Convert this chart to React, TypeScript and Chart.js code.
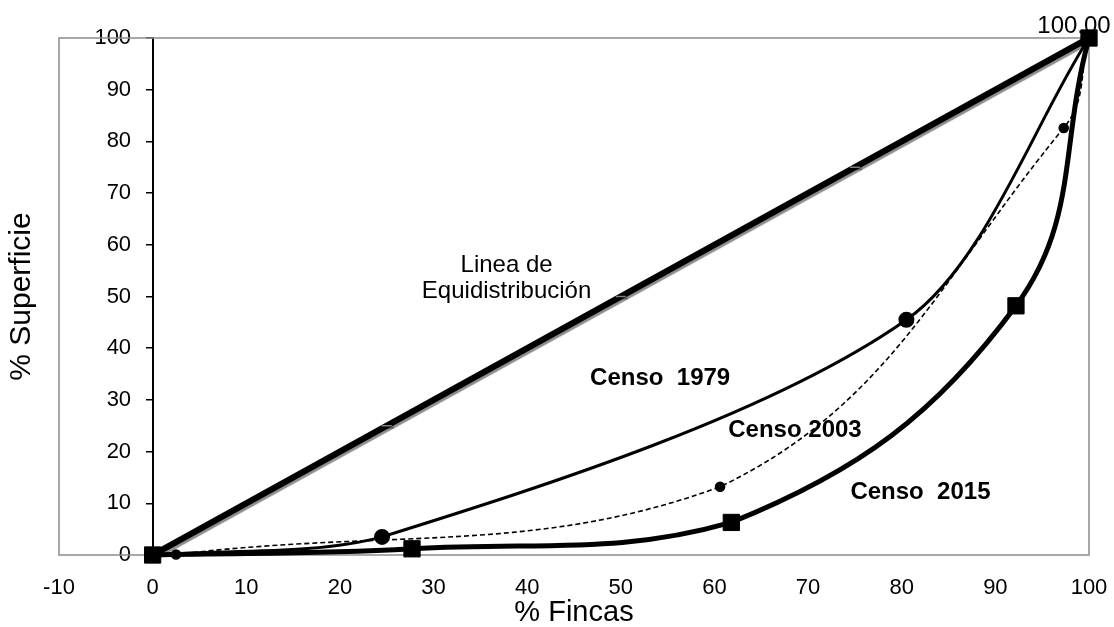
import React, { useEffect, useRef } from 'react';
import { Chart, registerables } from 'chart.js';

Chart.register(...registerables);

// ---- data ----
const equidistX = [0, 25, 50, 75, 100];
const equidistY = [0, 25, 50, 75, 100];

const censo1979X = [0, 24.5, 80.5, 100];
const censo1979Y = [0, 3.5, 45.5, 100];

const censo2003X = [0, 2.5, 60.6, 97.3, 100];
const censo2003Y = [0, 0.1, 13.2, 82.6, 100];

const censo2015X = [0, 27.7, 61.8, 92.2, 100];
const censo2015Y = [0, 1.2, 6.3, 48.2, 100];

const xMin = -10;
const xMax = 100;
const yMin = 0;
const yMax = 100;
const tickStep = 10;

const topValueLabel = '100.00';

const annotationTexts = ['Linea de', 'Equidistribución', 'Censo  1979', 'Censo 2003', 'Censo  2015'];
const annotationX = [37.8, 37.8, 54.2, 68.6, 82.0];
const annotationY = [56.1, 50.9, 34.2, 24.2, 12.2];
const annotationBold = [false, false, true, true, true];

const FONT = '"Liberation Sans", Arial, Helvetica, sans-serif';

const toPoints = (xs: number[], ys: number[]) => xs.map((x, i) => ({ x, y: ys[i] }));

const boxPlugin = {
  id: 'plotBox',
  beforeDatasetsDraw(chart: any) {
    const { ctx, chartArea } = chart;
    ctx.save();
    ctx.strokeStyle = '#8c8c8c';
    ctx.lineWidth = 1.5;
    ctx.strokeRect(chartArea.left, chartArea.top, chartArea.right - chartArea.left, chartArea.bottom - chartArea.top);
    ctx.restore();
  },
};

const shadowPlugin = {
  id: 'lineShadow',
  beforeDatasetDraw(chart: any, args: any) {
    if (args.index !== 0) return;
    const ctx = chart.ctx;
    ctx.save();
    ctx.shadowColor = 'rgba(0,0,0,0.45)';
    ctx.shadowOffsetX = 2;
    ctx.shadowOffsetY = 2;
    ctx.shadowBlur = 1;
  },
  afterDatasetDraw(chart: any, args: any) {
    if (args.index !== 0) return;
    chart.ctx.restore();
  },
};

const textPlugin = {
  id: 'annotTexts',
  afterDatasetsDraw(chart: any) {
    const { ctx, scales } = chart;
    const xs = scales.x;
    const ys = scales.y;
    ctx.save();
    ctx.fillStyle = '#000';
    ctx.textAlign = 'center';
    ctx.textBaseline = 'middle';
    annotationTexts.forEach((t, i) => {
      ctx.font = (annotationBold[i] ? 'bold 24px ' : '24px ') + FONT;
      ctx.fillText(t, xs.getPixelForValue(annotationX[i]), ys.getPixelForValue(annotationY[i]));
    });
    // value label on last point
    const px = xs.getPixelForValue(censo2015X[censo2015X.length - 1]);
    const py = ys.getPixelForValue(censo2015Y[censo2015Y.length - 1]);
    ctx.font = '24px ' + FONT;
    ctx.fillText(topValueLabel, px - 15, py - 12);
    ctx.restore();
  },
};

export default function App() {
  const canvasRef = useRef<HTMLCanvasElement | null>(null);

  useEffect(() => {
    document.body.style.margin = '0';
    const canvas = canvasRef.current;
    if (!canvas) return;

    const chart = new Chart(canvas, {
      type: 'line',
      data: {
        datasets: [
          {
            label: 'Linea de Equidistribución',
            data: toPoints(equidistX, equidistY),
            borderColor: '#000',
            borderWidth: 6,
            tension: 0,
            pointStyle: 'line',
            pointRadius: 5,
            pointBorderColor: '#808080',
            pointBorderWidth: 1.5,
            pointBackgroundColor: '#808080',
            order: 4,
            clip: false,
          } as any,
          {
            label: 'Censo 1979',
            data: toPoints(censo1979X, censo1979Y),
            borderColor: '#000',
            borderWidth: 3,
            tension: 0.3,
            pointStyle: 'circle',
            pointRadius: 6.5,
            pointBackgroundColor: '#000',
            pointBorderColor: '#000',
            order: 3,
            clip: false,
          },
          {
            label: 'Censo 2003',
            data: toPoints(censo2003X, censo2003Y),
            borderColor: '#000',
            borderWidth: 1.6,
            borderDash: [5, 3],
            tension: 0.4,
            pointStyle: 'circle',
            pointRadius: 4.5,
            pointBackgroundColor: '#000',
            pointBorderColor: '#000',
            order: 2,
            clip: false,
          },
          {
            label: 'Censo 2015',
            data: toPoints(censo2015X, censo2015Y),
            borderColor: '#000',
            borderWidth: 5,
            tension: 0.4,
            pointStyle: 'rect',
            pointRadius: 11.5,
            pointBackgroundColor: '#000',
            pointBorderColor: '#000',
            pointBorderWidth: 1,
            order: 1,
            clip: false,
          },
        ],
      },
      options: {
        animation: false,
        responsive: true,
        maintainAspectRatio: false,
        layout: { padding: { left: 0, right: 25, top: 38, bottom: 0 } },
        plugins: {
          legend: { display: false },
          tooltip: { enabled: false },
        },
        scales: {
          x: {
            type: 'linear',
            min: xMin,
            max: xMax,
            ticks: {
              stepSize: tickStep,
              color: '#000',
              padding: 0,
              font: { family: FONT, size: 22, lineHeight: 3 },
            },
            grid: { display: false, drawTicks: false },
            border: { display: false },
            title: {
              display: true,
              text: '% Fincas',
              color: '#000',
              font: { family: FONT, size: 29, lineHeight: 1 },
              padding: { top: -23, bottom: 0 },
            },
          },
          y: {
            type: 'linear',
            position: { x: 0 } as any,
            min: yMin,
            max: yMax,
            ticks: { stepSize: tickStep, display: false },
            grid: {
              display: true,
              drawOnChartArea: false,
              drawTicks: true,
              tickLength: 6,
              color: '#000',
              lineWidth: 1.5,
            },
            border: { display: true, color: '#000', width: 2 },
          },
          yLabels: {
            type: 'linear',
            position: { x: -2.3 } as any,
            min: yMin,
            max: yMax,
            ticks: {
              stepSize: tickStep,
              color: '#000',
              padding: 0,
              font: { family: FONT, size: 22, lineHeight: 1 },
            },
            grid: { display: false, drawTicks: false },
            border: { display: false },
          },
          yTitle: {
            type: 'linear',
            position: 'left',
            min: yMin,
            max: yMax,
            ticks: { display: false },
            grid: { display: false, drawTicks: false },
            border: { display: false },
            title: {
              display: true,
              text: '% Superficie',
              color: '#000',
              font: { family: FONT, size: 30, lineHeight: 1 },
              padding: { top: 7, bottom: 22 },
            },
          },
        },
      } as any,
      plugins: [boxPlugin, shadowPlugin, textPlugin],
    });

    return () => {
      chart.destroy();
    };
  }, []);

  return (
    <div style={{ width: 1114, height: 627, position: 'relative' }}>
      <canvas ref={canvasRef} />
    </div>
  );
}
